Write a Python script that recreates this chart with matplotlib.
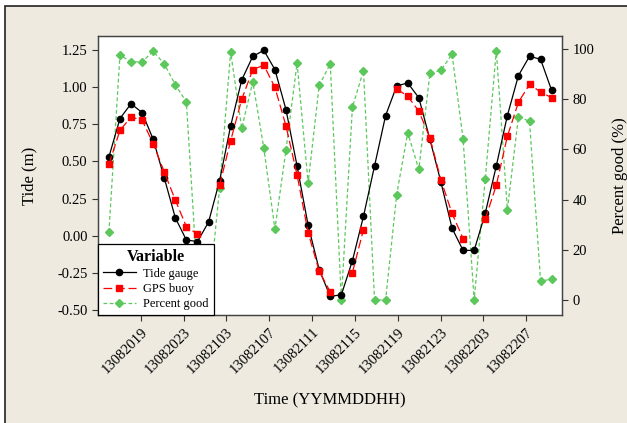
import matplotlib
matplotlib.use("Agg")
import matplotlib.pyplot as plt
import matplotlib.dates as mdates
from matplotlib.patches import Rectangle
import numpy as np
import pandas as pd

plt.rcParams['font.family'] = ['Liberation Serif', 'DejaVu Serif']

# hourly-ish samples (about 62 min apart) from 2013-08-20 16:02
times = pd.date_range('2013-08-20 16:02', periods=41, freq='62min')

tide_gauge = [0.53, 0.79, 0.89, 0.83, 0.65, 0.39, 0.12, -0.03, -0.04, 0.09,
              0.37, 0.74, 1.05, 1.21, 1.25, 1.12, 0.85, 0.47, 0.07, -0.23,
              -0.41, -0.40, -0.17, 0.13, 0.47, 0.81, 1.01, 1.03, 0.93, 0.65,
              0.36, 0.05, -0.10, -0.10, 0.15, 0.47, 0.81, 1.08, 1.21, 1.19, 0.98]

gps_buoy = [0.48, 0.71, 0.80, 0.78, 0.62, 0.43, 0.24, 0.06, 0.01, np.nan,
            0.34, 0.64, 0.92, 1.12, 1.15, 1.00, 0.74, 0.41, 0.02, -0.24,
            -0.38, np.nan, -0.25, 0.04, np.nan, np.nan, 0.99, 0.94, 0.84, 0.66,
            0.375, 0.15, -0.02, np.nan, 0.11, 0.34, 0.67, 0.90, 1.02, 0.97, 0.93]

percent_good = [27, 97.6, 94.9, 94.9, 99.1, 94.1, 85.8, 78.9, 8.0, 0,
                44.5, 98.8, 68.4, 87, 60.4, 28.3, 59.8, 94.4, 46.6, 85.5,
                94.1, 0, 76.8, 91.4, 0, 0, 42, 66.7, 52, 90.3,
                91.5, 98, 64.1, 0, 48.1, 99.4, 36, 73, 71.2, 7.6, 8.2]

bg = '#EEEAE0'
green = '#5CC85C'

fig = plt.figure(figsize=(6.27, 4.23), dpi=100, facecolor='white')
# beige panel with a dark frame line on top and left
fig.patches.append(Rectangle((5 / 627, -0.1), 1.2, 1.1 - 6 / 423,
                             transform=fig.transFigure, facecolor=bg,
                             edgecolor='#222222', linewidth=1.2, zorder=-10))

ax = fig.add_axes([98 / 627, (423 - 315) / 423, 464 / 627, 279 / 423])
ax2 = ax.twinx()

l1, = ax.plot(times, tide_gauge, color='black', linewidth=0.9,
              marker='o', markersize=4.5, label='Tide gauge')
l2, = ax.plot(times, gps_buoy, color='red', linewidth=0.9, dashes=(7, 3),
              marker='s', markersize=4.5, label='GPS buoy')
l3, = ax2.plot(times, percent_good, color=green, linewidth=0.9, dashes=(3, 2),
               marker='D', markersize=3.8, label='Percent good')

ax.set_zorder(ax2.get_zorder() + 1)
ax.patch.set_visible(False)
ax2.patch.set_visible(True)
ax2.patch.set_facecolor('white')

ax.set_xlim(times[0] - pd.Timedelta(minutes=61), times[0] + pd.Timedelta(minutes=2538))
ax.set_ylim(-0.536, 1.347)
ax2.set_ylim(-6, 105.2)

ax.set_yticks([-0.5, -0.25, 0, 0.25, 0.5, 0.75, 1.0, 1.25])
ax.yaxis.set_major_formatter(plt.FormatStrFormatter('%.2f'))
ax2.set_yticks([0, 20, 40, 60, 80, 100])

ax.xaxis.set_major_locator(mdates.HourLocator(byhour=[3, 7, 11, 15, 19, 23]))
ax.xaxis.set_major_formatter(mdates.DateFormatter('%y%m%d%H'))
for lab in ax.get_xticklabels():
    lab.set_rotation(45)
    lab.set_ha('right')
    lab.set_rotation_mode('anchor')

for a in (ax, ax2):
    a.tick_params(labelsize=10.5, length=4, width=0.8, color='#333333')
    for s in a.spines.values():
        s.set_color('#444444')
        s.set_linewidth(0.9)

ax.set_ylabel('Tide (m)', fontsize=12, labelpad=14)
ax2.set_ylabel('Percent good (%)', fontsize=12, labelpad=13)
ax.set_xlabel('Time (YYMMDDHH)', fontsize=12, labelpad=12)

leg = ax.legend(handles=[l1, l2, l3], title='Variable', loc='lower left',
                bbox_to_anchor=(0, 0), borderaxespad=0, fancybox=False,
                edgecolor='black', framealpha=1, fontsize=9,
                title_fontproperties={'size': 11.5, 'weight': 'bold'},
                handlelength=2.6, borderpad=0.4, labelspacing=0.25,
                handletextpad=0.6)
leg.get_frame().set_linewidth(0.9)

fig.savefig('out.png', dpi=100, facecolor=fig.get_facecolor())
